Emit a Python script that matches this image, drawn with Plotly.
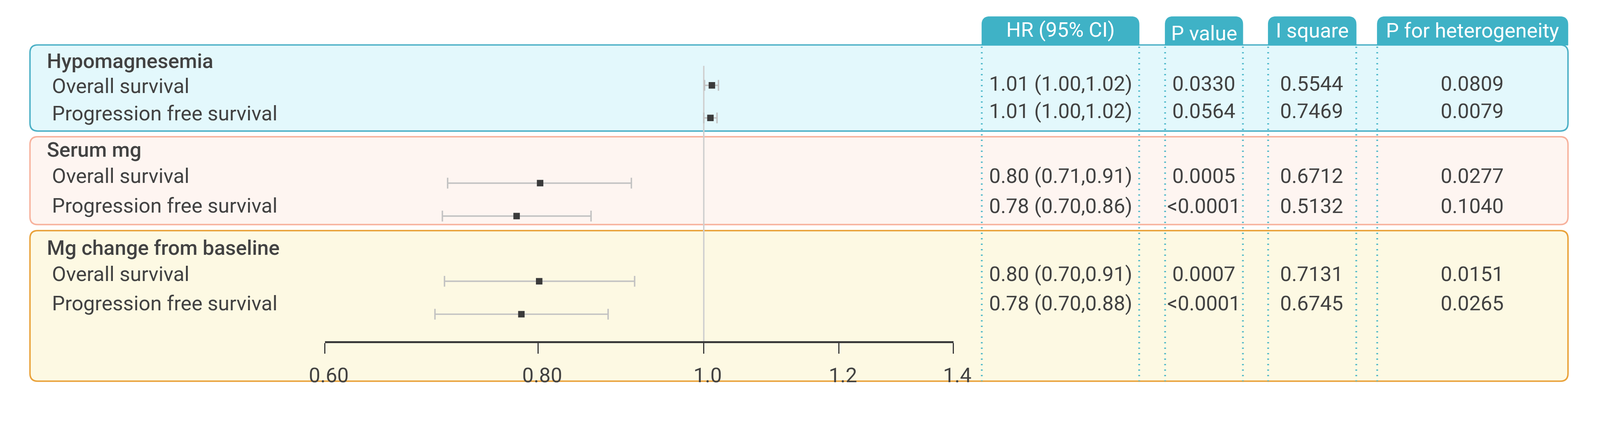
import math
import plotly.graph_objects as go

# ---- data ----
groups = ["Hypomagnesemia", "Serum mg", "Mg change from baseline"]
outcomes = ["Overall survival", "Progression free survival"]

hr_est = [1.011, 1.009, 0.802, 0.777, 0.801, 0.782]
ci_low = [1.001, 1.000, 0.708, 0.703, 0.705, 0.696]
ci_high = [1.020, 1.018, 0.907, 0.859, 0.911, 0.879]

hr_text = ["1.01 (1.00,1.02)", "1.01 (1.00,1.02)",
           "0.80 (0.71,0.91)", "0.78 (0.70,0.86)",
           "0.80 (0.70,0.91)", "0.78 (0.70,0.88)"]
p_value = ["0.0330", "0.0564", "0.0005", "<0.0001", "0.0007", "<0.0001"]
i_square = ["0.5544", "0.7469", "0.6712", "0.5132", "0.7131", "0.6745"]
p_het = ["0.0809", "0.0079", "0.0277", "0.1040", "0.0151", "0.0265"]

col_headers = ["HR (95% CI)", "P value", "I square", "P for heterogeneity"]
tick_vals = [0.6, 0.8, 1.0, 1.2, 1.4]
tick_text = ["0.60", "0.80", "1.0", "1.2", "1.4"]

# ---- layout ----
# the photographed page comes out a bit enlarged, so target positions
# (measured on the final picture) are mapped back to figure pixels
KX, BX = 1.0762, 53.5
KY, BY = 1.103, 5
K = 1.085


def X(r):
    return (r - BX) / KX


def Y(r):
    return (r - BY) / KY


W, H = 4110, 1010


def px(r):
    return X(r) / W


def py(r):
    return 1 - Y(r) / H


FONT = "Roboto"
TXT = "#424242"
FS = 57 / K

box_x0, box_x1 = 84, 4413
box_y = [(123, 366), (382, 630), (647, 1072)]
box_fill = ["#e3f8fc", "#fef5f1", "#fdf9e3"]
box_line = ["#4cb0c6", "#f7b29d", "#e9a23a"]

header_y = [168, 419, 695]
label_y = [239, 316, 492, 576, 769, 852]
value_y = [232, 309, 493, 577, 769, 852]
marker_y = [237, 329, 513, 606, 790, 883]

tab_x = [(2763, 3206), (3279, 3498), (3569, 3817), (3876, 4413)]
tab_text_y = [80, 90, 82, 82]
TAB = "#3fb2c6"

axis_px = (914, 2683)
axis_y = 961
ref_top = 182


def rrect(x0, y0, x1, y1, r, top_only=False):
    # rounded rectangle path in paper coords (input in picture pixels, y down)
    rb = 0 if top_only else r
    pts = [
        f"M{px(x0 + r)},{py(y0)}",
        f"L{px(x1 - r)},{py(y0)}",
        f"Q{px(x1)},{py(y0)} {px(x1)},{py(y0 + r)}",
        f"L{px(x1)},{py(y1 - rb)}",
        f"Q{px(x1)},{py(y1)} {px(x1 - rb)},{py(y1)}",
        f"L{px(x0 + rb)},{py(y1)}",
        f"Q{px(x0)},{py(y1)} {px(x0)},{py(y1 - rb)}",
        f"L{px(x0)},{py(y0 + r)}",
        f"Q{px(x0)},{py(y0)} {px(x0 + r)},{py(y0)}",
        "Z",
    ]
    return " ".join(pts)


fig = go.Figure()

fig.add_trace(go.Scatter(
    x=hr_est, y=[Y(v) for v in marker_y], mode="markers",
    marker=dict(symbol="square", size=18 / K, color="#3b3b3b"),
    error_x=dict(type="data", symmetric=False,
                 array=[h - e for h, e in zip(ci_high, hr_est)],
                 arrayminus=[e - l for e, l in zip(hr_est, ci_low)],
                 color="#c2c2c2", thickness=4 / K, width=15 / K),
    hoverinfo="skip", showlegend=False,
))

dot = dict(color="#3fb2c6", width=5 / K, dash="3px,11px")
shapes = []
# group boxes
for (y0, y1), fc, lc in zip(box_y, box_fill, box_line):
    shapes.append(dict(type="path", path=rrect(box_x0, y0, box_x1, y1, 22),
                       xref="paper", yref="paper", fillcolor=fc,
                       line=dict(color=lc, width=4 / K), layer="below"))
# header tabs
for x0, x1 in tab_x:
    shapes.append(dict(type="path", path=rrect(x0, 43, x1, 124, 22, top_only=True),
                       xref="paper", yref="paper", fillcolor=TAB,
                       line=dict(color=TAB, width=1), layer="below"))
# dotted column guides
guides = [x for pair in tab_x[:3] for x in pair] + [tab_x[3][0]]
for xx in guides:
    shapes.append(dict(type="line", x0=px(xx), x1=px(xx), y0=py(128), y1=py(1072),
                       xref="paper", yref="paper", line=dot, layer="below"))
# reference line at HR = 1
shapes.append(dict(type="line", x0=1.0, x1=1.0, y0=Y(ref_top), y1=Y(axis_y),
                   xref="x", yref="y", line=dict(color="#cfcfcf", width=4 / K),
                   layer="below"))

annotations = []


def add_text(text, x, y, anchor="left", color=TXT, weight=None):
    font = dict(family=FONT, size=FS, color=color)
    if weight:
        font["weight"] = weight
    annotations.append(dict(text=text, x=px(x), y=Y(y), xref="paper", yref="y",
                            xanchor=anchor, yanchor="middle", showarrow=False,
                            font=font))


for g, name in enumerate(groups):
    add_text(name, 129, header_y[g], weight=500)
    for k, oc in enumerate(outcomes):
        add_text(oc, 144, label_y[g * 2 + k])

for i in range(len(hr_text)):
    add_text(hr_text[i], 2781, value_y[i])
    add_text(p_value[i], 3388, value_y[i], anchor="center")
    add_text(i_square[i], 3691, value_y[i], anchor="center")
    add_text(p_het[i], 4143, value_y[i], anchor="center")

for (x0, x1), t, ty in zip(tab_x, col_headers, tab_text_y):
    add_text(t, (x0 + x1) / 2, ty, anchor="center", color="white")

fig.update_layout(
    width=W, height=H,
    margin=dict(l=0, r=0, t=0, b=0),
    paper_bgcolor="white", plot_bgcolor="rgba(0,0,0,0)",
    showlegend=False,
    shapes=shapes, annotations=annotations,
    xaxis=dict(type="log", range=[math.log10(0.6), math.log10(1.4)],
               domain=[px(axis_px[0]), px(axis_px[1])],
               anchor="free", position=py(axis_y),
               showline=True, linewidth=5 / K, linecolor="#3a3a3a",
               ticks="outside", ticklen=30 / K, tickwidth=3 / K, tickcolor="#3a3a3a",
               tickvals=tick_vals, ticktext=tick_text,
               tickfont=dict(family=FONT, size=FS, color=TXT),
               ticklabelshift=10, ticklabelstandoff=10,
               showgrid=False, zeroline=False, fixedrange=True),
    yaxis=dict(range=[H, 0], domain=[0, 1], visible=False, fixedrange=True),
)

fig.write_html("out.html")
